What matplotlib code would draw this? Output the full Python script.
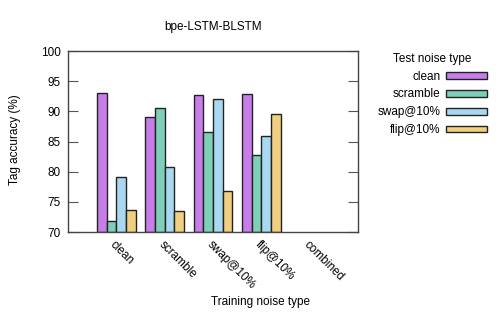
import numpy as np
import matplotlib
matplotlib.use("Agg")
import matplotlib.pyplot as plt
from matplotlib.patches import Patch

plt.rcParams['font.family'] = ['Liberation Sans', 'DejaVu Sans']

train_types = ["clean", "scramble", "swap@10%", "flip@10%", "combined"]
test_types = ["clean", "scramble", "swap@10%", "flip@10%"]
acc_clean = [93.0, 89.1, 92.7, 92.9, np.nan]
acc_scramble = [71.9, 90.6, 86.5, 82.7, np.nan]
acc_swap = [79.1, 80.8, 92.0, 85.9, np.nan]
acc_flip = [73.7, 73.5, 76.8, 89.6, np.nan]
series = [acc_clean, acc_scramble, acc_swap, acc_flip]
colors = ["#c87ee8", "#7ecfb8", "#a9d8f0", "#f0cf80"]
yticks = [70, 75, 80, 85, 90, 95, 100]

FS = 8.5
fig = plt.figure(figsize=(5.02, 3.14), dpi=100)
ax = fig.add_axes([68/502, 1-232/314, 290/502, 181/314])

x = np.arange(len(train_types))
w = 0.2
for i, (vals, c) in enumerate(zip(series, colors)):
    ax.bar(x + (i - 1.5) * w, np.array(vals) - 70, bottom=70, width=w,
           color=c, edgecolor="#222222", linewidth=1.0)

ax.set_xlim(-1, 5)
ax.set_ylim(70, 100)
ax.set_yticks(yticks)
ax.set_yticklabels([str(t) for t in yticks], fontsize=FS)
ax.tick_params(axis='y', direction='in', length=7, right=True, width=0.8, color='#555555', pad=5)
ax.set_xticks(x)
ax.set_xticklabels(train_types, fontsize=FS, rotation=-45, ha='left', va='top', rotation_mode='anchor')
ax.tick_params(axis='x', length=0, pad=5)
for s in ax.spines.values():
    s.set_color('#444444')
    s.set_linewidth(1.0)

ax.set_title("bpe-LSTM-BLSTM", fontsize=FS, pad=15)
fig.text(15/502, 1-140/314, "Tag accuracy (%)", rotation=90, ha='center', va='center', fontsize=FS)
fig.text(261/502, 1-302/314, "Training noise type", ha='center', va='center', fontsize=FS)

handles = [Patch(facecolor=c, edgecolor="#222222", linewidth=1.0) for c in colors]
leg = fig.legend(handles, test_types, loc='upper right', bbox_to_anchor=(498/502, 1-42/314),
                 frameon=False, fontsize=FS, title="Test noise type", title_fontsize=FS,
                 markerfirst=False, handlelength=3.5, handleheight=0.5,
                 labelspacing=0.5, handletextpad=0.45)

fig.savefig("out.png", dpi=100)
